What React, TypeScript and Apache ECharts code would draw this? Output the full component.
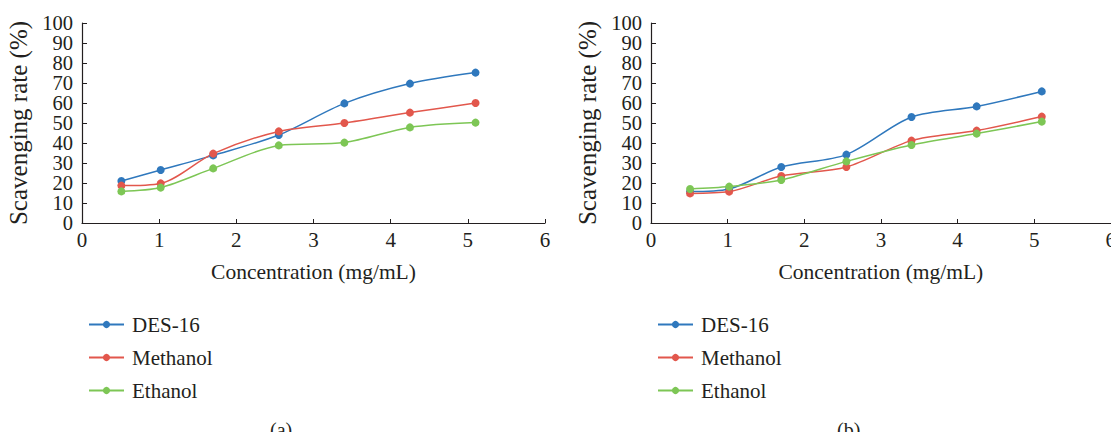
import React, { useEffect, useRef } from "react";
import * as echarts from "echarts";

const concentrations = [0.51, 1.02, 1.7, 2.55, 3.4, 4.25, 5.1];
const seriesNames = ["DES-16", "Methanol", "Ethanol"];
const colors = ["#2f78bd", "#e2574c", "#7dc655"];

// panel (a)
const desA = [21, 26.5, 33.8, 44, 59.8, 69.7, 75.2];
const methanolA = [18.7, 19.8, 34.7, 45.8, 50, 55.2, 60];
const ethanolA = [15.8, 17.7, 27.3, 38.8, 40.2, 47.8, 50.2];

// panel (b)
const desB = [15.7, 17, 28, 34.2, 53, 58.3, 65.8];
const methanolB = [14.8, 15.7, 23.5, 28, 41.2, 46.2, 53.2];
const ethanolB = [17, 18.2, 21.5, 30.8, 39, 44.7, 50.7];

const panelLabels = ["(a)", "(b)"];
const xTitle = "Concentration (mg/mL)";
const yTitle = "Scavenging rate (%)";

const FONT = "Liberation Serif";
const TXT = "#231f20";

export default function App() {
  const ref = useRef<HTMLDivElement>(null);
  useEffect(() => {
    if (!ref.current) return;
    const chart = echarts.init(ref.current, undefined, { renderer: "svg" });
    const panels = [
      [desA, methanolA, ethanolA],
      [desB, methanolB, ethanolB],
    ];
    const grids = [
      { left: 82, right: 574, top: 23, bottom: 217 },
      { left: 651, right: 5, top: 23, bottom: 217 },
    ];
    const axisLine = { show: true, lineStyle: { color: "#231f20", width: 1.2 } };
    const xAxes = grids.map((_, i) => ({
      type: "value",
      gridIndex: i,
      min: 0,
      max: 6,
      interval: 1,
      splitLine: { show: false },
      axisLine: { ...axisLine, onZero: false },
      axisTick: { show: true, inside: true, length: 4, lineStyle: { color: "#231f20" } },
      axisLabel: { fontFamily: FONT, fontSize: 21, color: TXT, margin: 6, showMinLabel: true, showMaxLabel: true },
      name: xTitle,
      nameLocation: "middle",
      nameGap: 38,
      nameTextStyle: { fontFamily: FONT, fontSize: 21.5, color: TXT },
    }));
    const labelBase = {
      fontFamily: FONT,
      fontSize: 20.5,
      color: TXT,
      lineHeight: 19,
      margin: 9,
      showMinLabel: true,
      showMaxLabel: true,
    };
    // main y axes: ticks, axis line, title, labels at multiples of 20
    const yMain = grids.map((_, i) => ({
      type: "value",
      gridIndex: i,
      position: "left",
      min: 0,
      max: 100,
      interval: 10,
      splitLine: { show: false },
      axisLine,
      axisTick: { show: true, inside: true, length: 5, lineStyle: { color: "#231f20" } },
      axisLabel: { ...labelBase, formatter: (v: number) => (v % 20 === 0 ? String(v) : "") },
      name: yTitle,
      nameLocation: "middle",
      nameGap: 51,
      nameTextStyle: { fontFamily: FONT, fontSize: 25, color: TXT },
    }));
    // companion y axes on the same spot: labels at odd multiples of 10
    const yOdd = grids.map((_, i) => ({
      type: "value",
      gridIndex: i,
      position: "left",
      offset: 0,
      min: 0,
      max: 100,
      interval: 10,
      splitLine: { show: false },
      axisLine: { show: false },
      axisTick: { show: false },
      axisLabel: { ...labelBase, formatter: (v: number) => (v % 20 === 10 ? String(v) : "") },
    }));
    const series: any[] = [];
    panels.forEach((vals, p) => {
      vals.forEach((arr, s) => {
        series.push({
          type: "line",
          name: seriesNames[s],
          xAxisIndex: p,
          yAxisIndex: p,
          data: concentrations.map((c, k) => [c, arr[k]]),
          smooth: 0.3,
          symbol: "circle",
          symbolSize: 8,
          itemStyle: { color: colors[s] },
          lineStyle: { color: colors[s], width: 1.5 },
        });
      });
    });
    const legendBase = {
      orient: "vertical",
      data: seriesNames,
      itemWidth: 35,
      itemHeight: 9,
      itemGap: 12,
      selectedMode: false,
      textStyle: { fontFamily: FONT, fontSize: 21, color: TXT, lineHeight: 21, padding: [0, 0, 0, 3] },
    };
    const captionStyle = { fontFamily: FONT, fontSize: 20, fontWeight: "normal", color: TXT, lineHeight: 20 };
    chart.setOption({
      animation: false,
      grid: grids,
      xAxis: xAxes,
      yAxis: [...yMain, ...yOdd],
      series,
      legend: [
        { ...legendBase, left: 83, top: 309 },
        { ...legendBase, left: 652, top: 309 },
      ],
      title: [
        { text: panelLabels[0], left: 270, bottom: 0, textStyle: captionStyle, padding: 0 },
        { text: panelLabels[1], left: 837, bottom: 0, textStyle: captionStyle, padding: 0 },
      ],
    });
    return () => chart.dispose();
  }, []);
  return <div ref={ref} style={{ width: 1119, height: 440, margin: -8 }} />;
}
